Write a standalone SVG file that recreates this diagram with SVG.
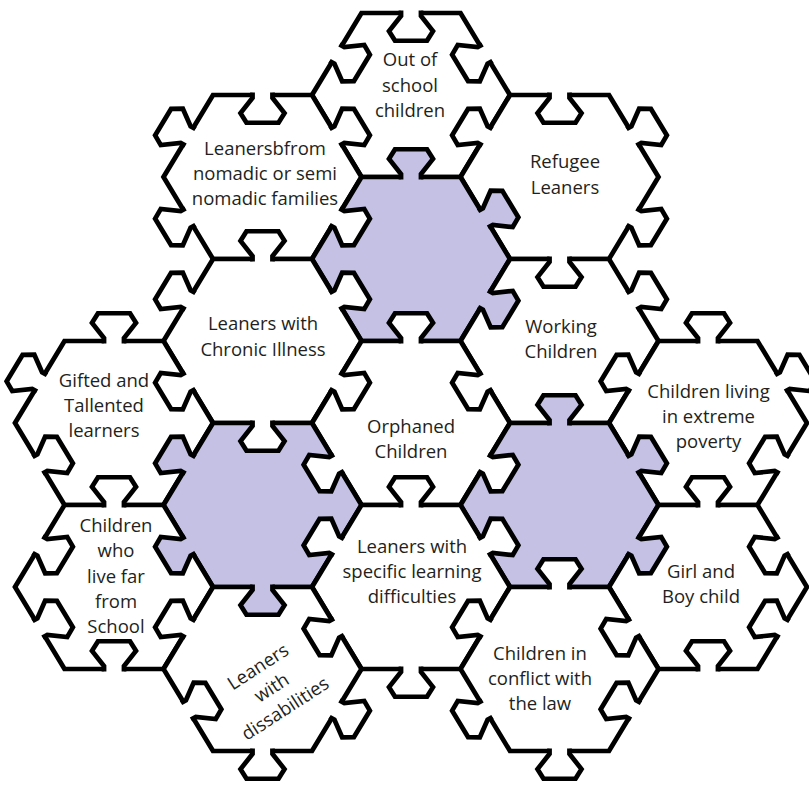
<svg xmlns="http://www.w3.org/2000/svg" xmlns:xlink="http://www.w3.org/1999/xlink" width="809" height="789" viewBox="0 0 809 789">
<style>
.ln{stroke:#000;stroke-width:4.8;stroke-linejoin:miter}
.w{fill:#fff}
.p{fill:#c4c1e4}
.t{font-family:"Open Sans","Noto Sans",sans-serif;font-size:18.5px;fill:#231f20;text-anchor:middle}
</style>
<defs>
<polygon id="hex" points="-99,0 -49.5,-85.74 49.5,-85.74 99,0 49.5,85.74 -49.5,85.74"/>
<g id="tab">
<path d="M-10,4 L-10,-3 L-22,-19 L-16,-29 L16,-29 L22,-19 L10,-3 L10,4 Z" stroke="none"/>
<path d="M-10,2.6 L-10,-3 L-22,-19 L-16,-29 L16,-29 L22,-19 L10,-3 L10,2.6" fill="none"/>
</g>
</defs>
<rect width="809" height="789" fill="#fff"/>
<g id="pieces" class="ln">
<g id="node-out-of-school"><use href="#hex" class="w" transform="translate(411,95) scale(1,.9564)"/></g>
<g id="node-nomadic"><use href="#hex" class="w" transform="translate(262.5,177) scale(1,.9564)"/></g>
<g id="node-refugee"><use href="#hex" class="w" transform="translate(559.5,177) scale(1,.9564)"/></g>
<g id="node-purple-top"><use href="#hex" class="p" transform="translate(411,259) scale(1,.9564)"/></g>
<g id="node-chronic"><use href="#hex" class="w" transform="translate(262.5,341) scale(1,.9564)"/></g>
<g id="node-working"><use href="#hex" class="w" transform="translate(559.5,341) scale(1,.9564)"/></g>
<g id="node-orphaned"><use href="#hex" class="w" transform="translate(411,423) scale(1,.9564)"/></g>
<g id="node-gifted"><use href="#hex" class="w" transform="translate(114,423) scale(1,.9564)"/></g>
<g id="node-poverty"><use href="#hex" class="w" transform="translate(708,423) scale(1,.9564)"/></g>
<g id="node-purple-left"><use href="#hex" class="p" transform="translate(262.5,505) scale(1,.9564)"/></g>
<g id="node-purple-right"><use href="#hex" class="p" transform="translate(559.5,505) scale(1,.9564)"/></g>
<g id="node-far-school"><use href="#hex" class="w" transform="translate(114,587) scale(1,.9564)"/></g>
<g id="node-specific"><use href="#hex" class="w" transform="translate(411,587) scale(1,.9564)"/></g>
<g id="node-girl-boy"><use href="#hex" class="w" transform="translate(708,587) scale(1,.9564)"/></g>
<g id="node-disabilities"><use href="#hex" class="w" transform="translate(262.5,669) scale(1,.9564)"/></g>
<g id="node-conflict"><use href="#hex" class="w" transform="translate(559.5,669) scale(1,.9564)"/></g>
</g>
<g id="connectors" class="ln">
<use href="#tab" class="p" transform="translate(411,177) scale(1,.9564) rotate(0)"/>
<use href="#tab" class="p" transform="translate(485.25,218) scale(1,.9564) rotate(60)"/>
<use href="#tab" class="p" transform="translate(485.25,300) scale(1,.9564) rotate(120)"/>
<use href="#tab" class="w" transform="translate(411,341) scale(1,.9564) rotate(0)"/>
<use href="#tab" class="w" transform="translate(336.75,300) scale(1,.9564) rotate(60)"/>
<use href="#tab" class="w" transform="translate(336.75,218) scale(1,.9564) rotate(120)"/>
<use href="#tab" class="w" transform="translate(411,13) scale(1,.9564) rotate(180)"/>
<use href="#tab" class="w" transform="translate(485.25,54) scale(1,.9564) rotate(240)"/>
<use href="#tab" class="w" transform="translate(485.25,136) scale(1,.9564) rotate(300)"/>
<use href="#tab" class="w" transform="translate(336.75,136) scale(1,.9564) rotate(60)"/>
<use href="#tab" class="w" transform="translate(336.75,54) scale(1,.9564) rotate(120)"/>
<use href="#tab" class="w" transform="translate(262.5,95) scale(1,.9564) rotate(180)"/>
<use href="#tab" class="w" transform="translate(188.25,136) scale(1,.9564) rotate(300)"/>
<use href="#tab" class="w" transform="translate(188.25,218) scale(1,.9564) rotate(240)"/>
<use href="#tab" class="w" transform="translate(262.5,259) scale(1,.9564) rotate(0)"/>
<use href="#tab" class="w" transform="translate(559.5,95) scale(1,.9564) rotate(180)"/>
<use href="#tab" class="w" transform="translate(633.75,136) scale(1,.9564) rotate(60)"/>
<use href="#tab" class="w" transform="translate(633.75,218) scale(1,.9564) rotate(120)"/>
<use href="#tab" class="w" transform="translate(559.5,259) scale(1,.9564) rotate(180)"/>
<use href="#tab" class="w" transform="translate(336.75,382) scale(1,.9564) rotate(120)"/>
<use href="#tab" class="w" transform="translate(262.5,423) scale(1,.9564) rotate(180)"/>
<use href="#tab" class="w" transform="translate(188.25,382) scale(1,.9564) rotate(240)"/>
<use href="#tab" class="w" transform="translate(188.25,300) scale(1,.9564) rotate(300)"/>
<use href="#tab" class="w" transform="translate(633.75,300) scale(1,.9564) rotate(60)"/>
<use href="#tab" class="w" transform="translate(633.75,382) scale(1,.9564) rotate(300)"/>
<use href="#tab" class="p" transform="translate(559.5,423) scale(1,.9564) rotate(0)"/>
<use href="#tab" class="w" transform="translate(485.25,382) scale(1,.9564) rotate(240)"/>
<use href="#tab" class="w" transform="translate(485.25,464) scale(1,.9564) rotate(120)"/>
<use href="#tab" class="w" transform="translate(411,505) scale(1,.9564) rotate(0)"/>
<use href="#tab" class="w" transform="translate(336.75,464) scale(1,.9564) rotate(240)"/>
<use href="#tab" class="w" transform="translate(336.75,546) scale(1,.9564) rotate(300)"/>
<use href="#tab" class="p" transform="translate(262.5,587) scale(1,.9564) rotate(180)"/>
<use href="#tab" class="p" transform="translate(188.25,546) scale(1,.9564) rotate(240)"/>
<use href="#tab" class="p" transform="translate(188.25,464) scale(1,.9564) rotate(300)"/>
<use href="#tab" class="p" transform="translate(633.75,464) scale(1,.9564) rotate(60)"/>
<use href="#tab" class="p" transform="translate(633.75,546) scale(1,.9564) rotate(120)"/>
<use href="#tab" class="w" transform="translate(559.5,587) scale(1,.9564) rotate(0)"/>
<use href="#tab" class="w" transform="translate(485.25,546) scale(1,.9564) rotate(60)"/>
<use href="#tab" class="w" transform="translate(114,341) scale(1,.9564) rotate(0)"/>
<use href="#tab" class="w" transform="translate(39.75,382) scale(1,.9564) rotate(300)"/>
<use href="#tab" class="w" transform="translate(114,505) scale(1,.9564) rotate(0)"/>
<use href="#tab" class="w" transform="translate(39.75,464) scale(1,.9564) rotate(60)"/>
<use href="#tab" class="w" transform="translate(188.25,628) scale(1,.9564) rotate(300)"/>
<use href="#tab" class="w" transform="translate(114,669) scale(1,.9564) rotate(0)"/>
<use href="#tab" class="w" transform="translate(39.75,628) scale(1,.9564) rotate(60)"/>
<use href="#tab" class="w" transform="translate(39.75,546) scale(1,.9564) rotate(120)"/>
<use href="#tab" class="w" transform="translate(485.25,628) scale(1,.9564) rotate(300)"/>
<use href="#tab" class="w" transform="translate(411,669) scale(1,.9564) rotate(180)"/>
<use href="#tab" class="w" transform="translate(336.75,628) scale(1,.9564) rotate(240)"/>
<use href="#tab" class="w" transform="translate(336.75,710) scale(1,.9564) rotate(120)"/>
<use href="#tab" class="w" transform="translate(262.5,751) scale(1,.9564) rotate(180)"/>
<use href="#tab" class="w" transform="translate(188.25,710) scale(1,.9564) rotate(60)"/>
<use href="#tab" class="w" transform="translate(633.75,628) scale(1,.9564) rotate(240)"/>
<use href="#tab" class="w" transform="translate(633.75,710) scale(1,.9564) rotate(300)"/>
<use href="#tab" class="w" transform="translate(559.5,751) scale(1,.9564) rotate(180)"/>
<use href="#tab" class="w" transform="translate(485.25,710) scale(1,.9564) rotate(240)"/>
<use href="#tab" class="w" transform="translate(708,505) scale(1,.9564) rotate(0)"/>
<use href="#tab" class="w" transform="translate(782.25,546) scale(1,.9564) rotate(240)"/>
<use href="#tab" class="w" transform="translate(782.25,628) scale(1,.9564) rotate(300)"/>
<use href="#tab" class="w" transform="translate(708,669) scale(1,.9564) rotate(0)"/>
<use href="#tab" class="w" transform="translate(708,341) scale(1,.9564) rotate(0)"/>
<use href="#tab" class="w" transform="translate(782.25,382) scale(1,.9564) rotate(60)"/>
<use href="#tab" class="w" transform="translate(782.25,464) scale(1,.9564) rotate(300)"/>
</g>
<g id="labels" class="t">
<text id="label-out-of-school"><tspan x="410" y="66">Out of</tspan><tspan x="410" y="92">school</tspan><tspan x="410" y="117">children</tspan></text>
<text id="label-nomadic"><tspan x="265" y="155">Leanersbfrom</tspan><tspan x="265" y="180">nomadic or semi</tspan><tspan x="265" y="205">nomadic families</tspan></text>
<text id="label-refugee"><tspan x="565" y="168">Refugee</tspan><tspan x="565" y="194">Leaners</tspan></text>
<text id="label-chronic"><tspan x="263" y="330">Leaners with</tspan><tspan x="263" y="356">Chronic Illness</tspan></text>
<text id="label-working"><tspan x="561" y="333">Working</tspan><tspan x="561" y="358">Children</tspan></text>
<text id="label-gifted"><tspan x="104" y="387">Gifted and</tspan><tspan x="104" y="412">Tallented</tspan><tspan x="104" y="437">learners</tspan></text>
<text id="label-orphaned"><tspan x="411" y="433">Orphaned</tspan><tspan x="411" y="458">Children</tspan></text>
<text id="label-poverty"><tspan x="708.5" y="398">Children living</tspan><tspan x="708.5" y="423">in extreme</tspan><tspan x="708.5" y="448">poverty</tspan></text>
<text id="label-far-school"><tspan x="116" y="532">Children</tspan><tspan x="116" y="557">who</tspan><tspan x="116" y="583">live far</tspan><tspan x="116" y="608">from</tspan><tspan x="116" y="633">School</tspan></text>
<text id="label-specific"><tspan x="412" y="553">Leaners with</tspan><tspan x="412" y="578">specific learning</tspan><tspan x="412" y="603">difficulties</tspan></text>
<text id="label-girl-boy"><tspan x="701" y="578">Girl and</tspan><tspan x="701" y="603">Boy child</tspan></text>
<text id="label-conflict"><tspan x="540" y="660">Children in</tspan><tspan x="540" y="685">conflict with</tspan><tspan x="540" y="710">the law</tspan></text>
<text id="label-disabilities" transform="translate(275,693) rotate(-33)"><tspan x="0" y="-25">Leaners</tspan><tspan x="0" y="0">with</tspan><tspan x="0" y="25">dissabilities</tspan></text>
</g>
</svg>
